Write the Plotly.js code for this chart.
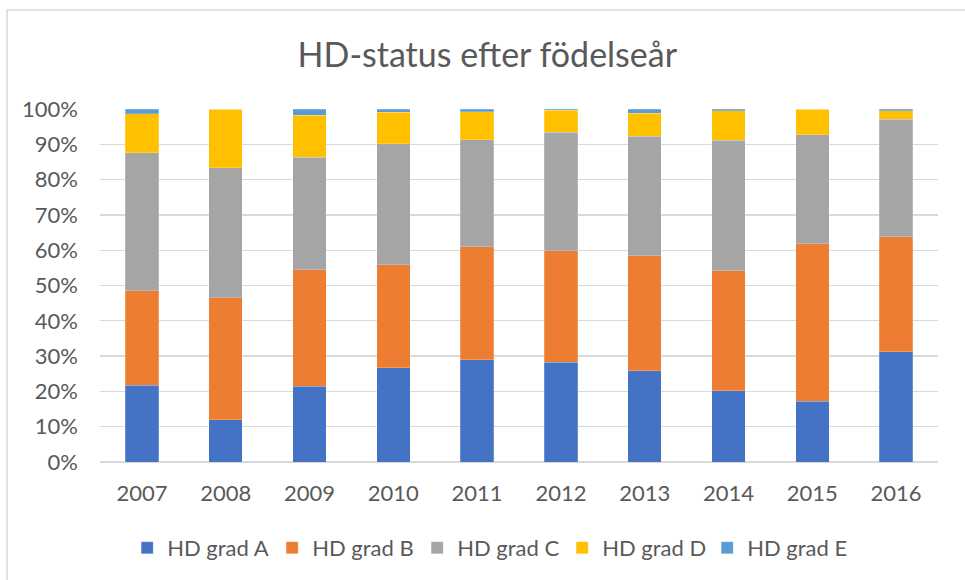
<!DOCTYPE html>
<html>
<head>
<meta charset="utf-8">
<script src="https://cdn.plot.ly/plotly-3.0.1.min.js"></script>
<style>
html,body{margin:0;padding:0;background:#fff;}
#chart{width:965px;height:580px;}
</style>
</head>
<body>
<div id="chart"></div>
<script>
const years = ["2007","2008","2009","2010","2011","2012","2013","2014","2015","2016"];
const seriesNames = ["HD grad A","HD grad B","HD grad C","HD grad D","HD grad E"];
const gradA = [21.8, 12.0, 21.5, 26.7, 28.9, 28.2, 25.9, 20.2, 17.2, 31.3];
const gradB = [26.7, 34.5, 33.0, 29.2, 32.1, 31.6, 32.6, 34.0, 44.6, 32.5];
const gradC = [39.1, 36.8, 31.8, 34.3, 30.3, 33.6, 33.8, 37.0, 30.9, 33.3];
const gradD = [11.0, 16.7, 12.0, 8.9, 7.9, 6.2, 6.5, 8.3, 7.3, 2.4];
const gradE = [1.4, 0.0, 1.7, 0.9, 0.8, 0.4, 1.2, 0.5, 0.0, 0.5];
const colors = ["#4472C4","#ED7D31","#A5A5A5","#FFC000","#5B9BD5"];
const allSeries = [gradA, gradB, gradC, gradD, gradE];

const traces = allSeries.map((vals, i) => ({
  type: 'bar',
  name: seriesNames[i],
  x: years,
  y: vals.map(v => v / 100),
  marker: {color: colors[i], line: {color: 'rgba(255,255,255,0.35)', width: 0.6}},
  hoverinfo: 'x+y+name'
}));

const font = 'Lato, "Open Sans", sans-serif';
const layout = {
  width: 965,
  height: 580,
  barmode: 'stack',
  bargap: 0.6,
  paper_bgcolor: '#ffffff',
  plot_bgcolor: '#ffffff',
  margin: {l: 100, r: 27, t: 109, b: 117},
  font: {family: font, color: '#595959', size: 22},
  title: {
    text: 'HD-status efter födelseår',
    font: {family: font, size: 34, color: '#595959'},
    x: 0.505, xanchor: 'center', xref: 'container',
    y: 0.905, yanchor: 'middle', yref: 'container'
  },
  xaxis: {
    type: 'category',
    showgrid: false,
    showline: false,
    zeroline: false,
    ticks: '',
    tickfont: {size: 22, color: '#595959'},
    ticklabelstandoff: 16
  },
  yaxis: {
    range: [0, 1],
    dtick: 0.1,
    tick0: 0,
    tickformat: '.0%',
    showgrid: true,
    gridcolor: '#D9D9D9',
    gridwidth: 1.3,
    zeroline: true,
    zerolinecolor: '#D9D9D9',
    zerolinewidth: 1.3,
    showline: false,
    ticks: '',
    tickfont: {size: 22, color: '#595959'},
    ticklabelstandoff: 21
  },
  legend: {
    orientation: 'h',
    x: 0.465, xanchor: 'center',
    y: -0.24, yanchor: 'middle',
    font: {size: 22, color: '#595959'},
    traceorder: 'normal',
    entrywidth: 100,
    entrywidthmode: 'pixels',
    itemwidth: 30
  },
  shapes: [{
    type: 'rect',
    xref: 'paper', yref: 'paper',
    x0: (7 - 100) / 838, x1: (975 - 100) / 838,
    y0: (463.3 - 590) / 354, y1: (463.3 - 10) / 354,
    line: {color: '#D9D9D9', width: 1.5},
    fillcolor: 'rgba(0,0,0,0)',
    layer: 'below'
  }]
};

Plotly.newPlot('chart', traces, layout, {displayModeBar: false, staticPlot: true});
</script>
</body>
</html>
